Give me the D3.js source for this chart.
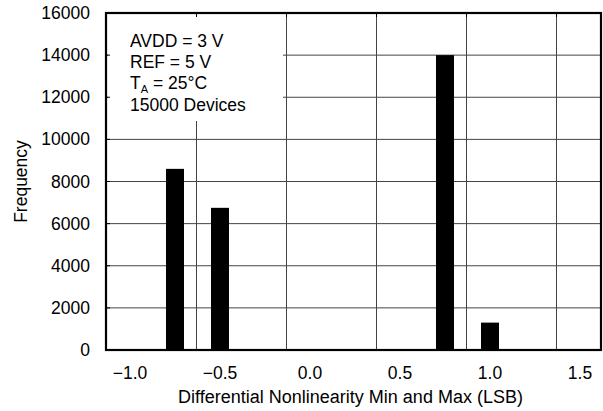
<!DOCTYPE html>
<html>
<head>
<meta charset="utf-8">
<script src="https://cdn.jsdelivr.net/npm/d3@7"></script>
<style>
  body { margin: 0; background: #fff; }
  text { font-family: "Liberation Sans", Arial, sans-serif; fill: #000; }
</style>
</head>
<body>
<svg width="603" height="411"></svg>
<script>
// histogram bins (LSB) and counts
const binCenters = [-0.75, -0.5, 0.5, 0.75, 1.0];
const frequency = [8600, 6750, 40, 14000, 1300];
const xTicks = [-1.0, -0.5, 0.0, 0.5, 1.0, 1.5];
const yTicks = [0, 2000, 4000, 6000, 8000, 10000, 12000, 14000, 16000];
const gridX = [-0.6333, -0.1333, 0.3667, 0.8667, 1.3667];
const notes = ["AVDD = 3 V", "REF = 5 V", "T|A| = 25°C", "15000 Devices"];

const margin = {top: 13, right: 2, bottom: 61, left: 106};
const W = 603, H = 411;
const w = W - margin.left - margin.right;
const h = H - margin.top - margin.bottom;
const fs = "17.5px";

const svg = d3.select("svg");
const g = svg.append("g").attr("transform", `translate(${margin.left},${margin.top})`);

const x = d3.scaleLinear().domain([-1.1333, 1.6167]).range([0, w]);
const y = d3.scaleLinear().domain([0, 16000]).range([h, 0]);

// grid
g.append("g").selectAll("line").data(yTicks.slice(1, -1)).enter().append("line")
  .attr("x1", 0).attr("x2", w)
  .attr("y1", d => y(d)).attr("y2", d => y(d))
  .attr("stroke", "#444").attr("stroke-width", 1);
g.append("g").selectAll("line").data(gridX).enter().append("line")
  .attr("x1", d => Math.round(x(d)) + 0.5).attr("x2", d => Math.round(x(d)) + 0.5)
  .attr("y1", 0).attr("y2", h)
  .attr("stroke", "#444").attr("stroke-width", 1);

// bars
g.append("g").selectAll("rect").data(binCenters).enter().append("rect")
  .attr("x", d => x(d - 0.05))
  .attr("width", d => x(d + 0.05) - x(d - 0.05))
  .attr("y", (d, i) => y(frequency[i]))
  .attr("height", (d, i) => h - y(frequency[i]))
  .attr("fill", "#000");

// legend box covers the grid
const box = g.append("g");
box.append("rect").attr("x", 2).attr("y", 2).attr("width", 175).attr("height", 106).attr("fill", "#fff");
notes.forEach((t, i) => {
  const tx = box.append("text").attr("x", 24).attr("y", 33.5 + i * 21.4).style("font-size", fs);
  const parts = t.split("|");
  tx.append("tspan").text(parts[0]);
  if (parts.length > 1) {
    tx.append("tspan").attr("dy", 4).style("font-size", "11px").text(parts[1]);
    tx.append("tspan").attr("dy", -4).text(parts[2]);
  }
});

// small inward ticks
g.append("g").selectAll("line").data(yTicks.slice(1, -1)).enter().append("line")
  .attr("x1", 0).attr("x2", 4).attr("y1", d => y(d)).attr("y2", d => y(d))
  .attr("stroke", "#000");
g.append("g").selectAll("line").data(gridX).enter().append("line")
  .attr("x1", d => Math.round(x(d)) + 0.5).attr("x2", d => Math.round(x(d)) + 0.5)
  .attr("y1", 0).attr("y2", 4).attr("stroke", "#000");

// frame
g.append("rect").attr("x", 0).attr("y", 0).attr("width", w).attr("height", h)
  .attr("fill", "none").attr("stroke", "#000").attr("stroke-width", 2.2);

// axes labels
const fmtX = d3.format(".1f");
g.append("g").selectAll("text").data(xTicks).enter().append("text")
  .attr("x", d => x(d)).attr("y", h + 29)
  .attr("text-anchor", "middle").style("font-size", fs)
  .text(d => fmtX(d));
g.append("g").selectAll("text").data(yTicks).enter().append("text")
  .attr("x", -16).attr("y", d => y(d) + 6)
  .attr("text-anchor", "end").style("font-size", fs)
  .text(d => d);

g.append("text").attr("x", w / 2 - 3).attr("y", h + 53)
  .attr("text-anchor", "middle").style("font-size", "18px")
  .text("Differential Nonlinearity Min and Max (LSB)");
svg.append("text").attr("transform", `translate(27,${margin.top + h / 2}) rotate(-90)`)
  .attr("text-anchor", "middle").style("font-size", fs)
  .text("Frequency");
</script>
</body>
</html>
